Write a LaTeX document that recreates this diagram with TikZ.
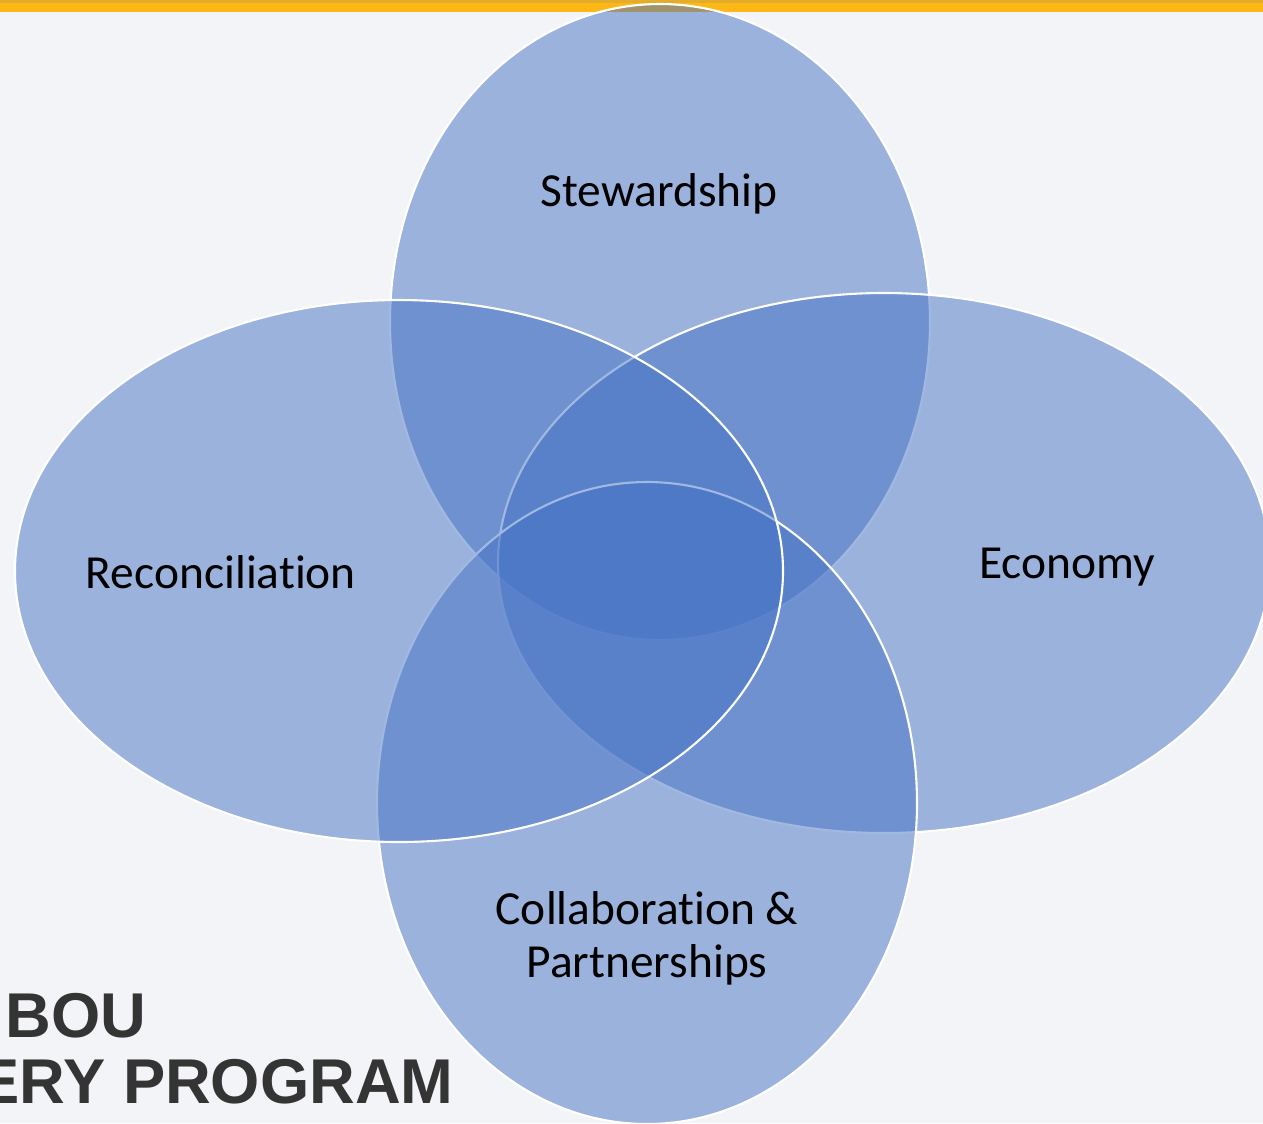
\documentclass[tikz,border=0pt]{standalone}
\usepackage{fontspec}
\setmainfont{Carlito}[Ligatures=NoCommon]
\newfontfamily\logofont{Liberation Sans}
\usetikzlibrary{positioning}

\definecolor{petalblue}{RGB}{68,114,196}
\definecolor{slidebg}{RGB}{243,244,247}
\definecolor{slidegold}{RGB}{254,184,22}
\definecolor{slidegolddark}{RGB}{226,172,44}
\definecolor{logogrey}{RGB}{52,52,52}

\tikzset{
  petal/.style={fill=petalblue, fill opacity=0.5, draw=white, line width=0.6pt},
  petaltext/.style={font=\fontsize{13.5}{15}\selectfont, align=center, inner sep=0pt},
  logotext/.style={font=\logofont\bfseries\fontsize{18}{20}\selectfont, text=logogrey, inner sep=0pt, anchor=base west}
}

\begin{document}
\begin{tikzpicture}[x=0.01cm, y=-0.01cm]
    \useasboundingbox (0,0) rectangle (1263,1123);
    \clip (0,0) rectangle (1263,1123);
    % slide background and top bar
    \fill[slidebg] (0,0) rectangle (1263,1123);
    \fill[slidegold] (0,0) rectangle (1263,12);
    \fill[slidegolddark] (0,0) rectangle (1263,3);
    % logo text, cut off at the left edge
    \node[logotext] (logotop) at (5,1037) {BOU};
    \node[logotext] (logobottom) at (-23,1103) {ERY PROGRAM};
    % four overlapping ellipses (top, right, bottom, left)
    \coordinate (stewc) at (660,322);
    \coordinate (econc) at (884,563);
    \coordinate (collc) at (647,803);
    \coordinate (reconc) at (399,571);
    \draw[petal] (stewc) ellipse [x radius=270, y radius=318];
    \draw[petal] (econc) ellipse [x radius=386, y radius=270];
    \draw[petal] (collc) ellipse [x radius=270, y radius=321];
    \draw[petal] (reconc) ellipse [x radius=384, y radius=271];
    % labels
    \node[petaltext] (stew) at (659,194) {Stewardship};
    \node[petaltext] (econ) at (1067,567) {Economy};
    \node[petaltext] (coll) at (647,938) {Collaboration \&\\Partnerships};
    \node[petaltext] (recon) at (221,572) {Reconciliation};
\end{tikzpicture}
\end{document}
